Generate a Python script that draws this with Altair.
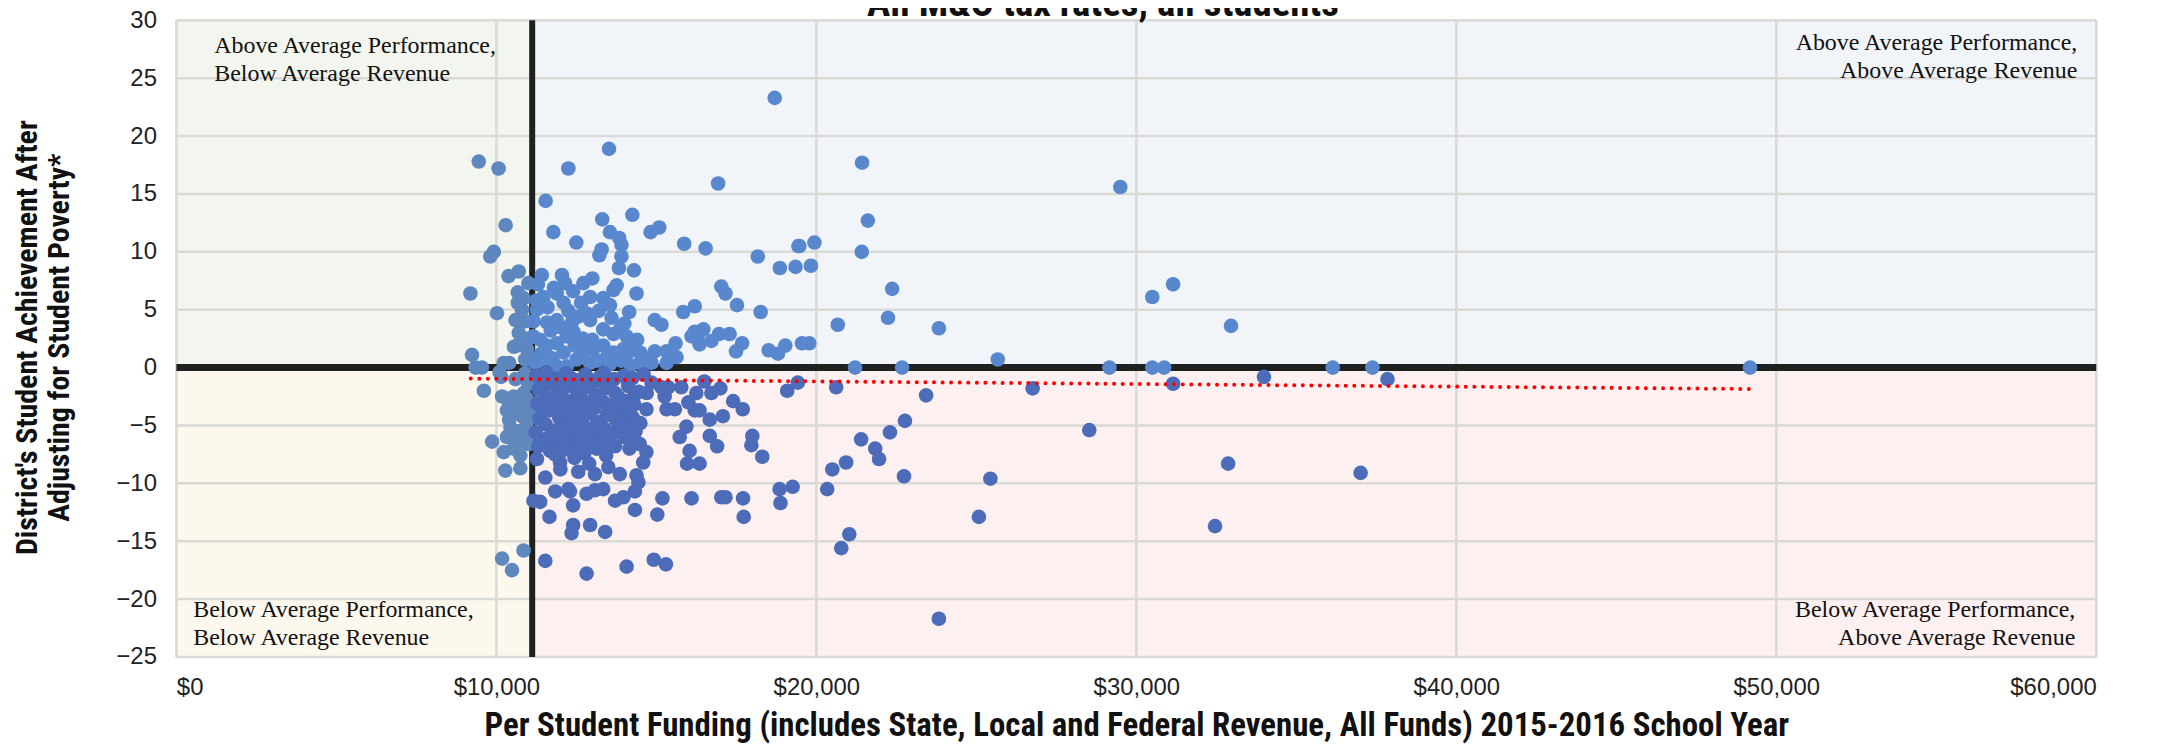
import altair as alt
import pandas as pd

# ---------------- data ----------------
title_text = "All M&O tax rates, all students"
x_title = "Per Student Funding (includes State, Local and Federal Revenue, All Funds) 2015-2016 School Year"
y_title = ["District's Student Achievement After", "Adjusting for Student Poverty*"]

x_ticks = [0, 10000, 20000, 30000, 40000, 50000, 60000]
y_ticks = [-25, -20, -15, -10, -5, 0, 5, 10, 15, 20, 25, 30]

avg_revenue = 11120   # vertical divider ($)
avg_perf = 0          # horizontal divider

trend_x = [9200, 49200]
trend_y = [-0.95, -1.85]

quad_labels = [
    ["Above Average Performance,", "Below Average Revenue"],
    ["Above Average Performance,", "Above Average Revenue"],
    ["Below Average Performance,", "Below Average Revenue"],
    ["Below Average Performance,", "Above Average Revenue"],
]

# districts: (per-student funding $, adjusted achievement)
districts_low_rev_above = [
    (9450, 17.8), (10070, 17.2), (10290, 12.3), (9810, 9.6), (9920, 10.0), (9190, 6.4),
    (10380, 7.9), (10700, 8.3), (10670, 6.5), (10670, 5.6), (10020, 4.7), (9240, 1.1),
    (9550, 0.0), (9350, 0.0), (10230, 0.4), (10640, 1.9), (10960, 1.6), (10900, 0.7),
    (10850, 6.0), (10900, 4.0), (11000, 2.5), (10700, 3.0), (10800, 5.0), (11000, 7.3),
    (10600, 4.1), (10400, 0.4), (11050, 0.8), (10550, 1.8),
]

districts_low_rev_below = [
    (9610, -2.0), (10180, -2.5), (10380, -2.9), (10540, -2.5), (10850, -2.2), (10960, -2.7),
    (10700, -3.2), (10330, -3.7), (10640, -3.7), (10900, -3.5), (10800, -4.2), (10440, -5.2),
    (10700, -5.5), (10330, -6.0), (10640, -6.6), (10900, -6.2), (10540, -7.0), (10230, -7.3),
    (9870, -6.4), (10280, -8.9), (10750, -8.7), (10180, -16.5), (10850, -15.8), (10490, -17.5),
    (10100, -0.4), (10600, -1.0), (10900, -0.5), (10950, -4.8), (11000, -6.6), (10750, -7.6),
    (10400, -4.5), (10150, -0.8), (11000, -1.4), (11050, -3.9), (11050, -5.6),
]

districts_high_rev_above = [
    (18700, 23.3), (13520, 18.9), (12250, 17.2), (21430, 17.7), (11540, 14.4), (11780, 11.7),
    (16930, 15.9), (21610, 12.7), (13310, 12.8), (14250, 13.2), (12500, 10.8), (13550, 11.7),
    (13840, 11.2), (13910, 10.6), (14820, 11.7), (15090, 12.1), (15870, 10.7), (16540, 10.3),
    (18170, 9.6), (19440, 10.5), (19940, 10.8), (18860, 8.6), (19350, 8.7), (19830, 8.8),
    (19470, 10.5), (21420, 10.0), (17030, 7.0), (17160, 6.4), (17520, 5.4), (18260, 4.8),
    (20670, 3.7), (22370, 6.8), (22240, 4.3), (23830, 3.4), (15840, 4.8), (16200, 5.3),
    (16200, 3.1), (16100, 2.7), (16350, 2.0), (16720, 2.3), (16960, 2.9), (17290, 2.9),
    (17680, 2.1), (17490, 1.4), (18510, 1.5), (18800, 1.2), (19030, 1.9), (19550, 2.1),
    (19780, 2.1), (21210, 0.0), (22680, 0.0), (25670, 0.7), (29160, 0.0), (30500, 0.0),
    (30870, 0.0), (32960, 3.6), (30500, 6.1), (31150, 7.2), (29500, 15.6), (36140, 0.0),
    (37380, 0.0), (49180, 0.0),
    (13220, 9.7), (13290, 10.2), (13910, 9.6), (13830, 8.6), (14300, 8.4), (14950, 4.1),
    (15160, 3.7), (14150, 4.8), (14380, 6.4), (13000, 7.7), (12720, 7.3), (12930, 6.1),
    (13340, 6.0), (13660, 6.7), (13760, 7.1), (13550, 5.4), (11420, 8.0), (12050, 8.0),
    (12150, 7.3), (11890, 6.4), (12100, 5.6), (11470, 6.1), (11270, 5.0), (11160, 4.0),
    (11580, 3.9), (11890, 4.1), (12360, 3.9), (12560, 4.4), (12820, 4.7), (12930, 4.1),
    (12410, 3.1), (12200, 2.7), (11890, 2.1), (11580, 1.9), (11370, 2.4), (11150, 2.7),
    (13340, 3.3), (13660, 2.9), (13860, 3.3), (14070, 2.7), (14230, 2.1), (13970, 1.6),
    (13660, 1.3), (13340, 1.9), (13030, 1.6), (12720, 1.3), (12510, 0.7), (12930, 0.4),
    (13450, 0.9), (13860, 0.9), (14120, 1.3), (14490, 1.3), (14590, 0.9), (14950, 1.4),
    (15320, 1.4), (15630, 0.9), (15320, 0.4), (14850, 0.4), (14490, 0.4), (11210, 0.4),
    (11580, 0.1), (11890, 0.1), (12200, 0.1), (11300, 7.2), (11250, 5.8), (11600, 5.2),
    (11800, 6.9), (12400, 6.6), (12650, 5.6), (12250, 4.9), (11700, 3.2), (12000, 3.5),
    (12700, 2.5), (13000, 2.4), (13200, 4.9), (13600, 4.3), (14000, 3.8), (14400, 2.4),
    (11400, 1.2), (11750, 0.8), (12100, 1.3), (12450, 1.9), (12800, 2.0), (13150, 0.6),
    (13550, 0.3), (13900, 0.6), (14200, 0.2), (15600, 2.1), (16290, 2.7), (16470, 3.3),
]

districts_high_rev_below = [
    (20620, -1.7), (23430, -2.4), (22770, -4.6), (22300, -5.6), (21400, -6.2), (21840, -7.0),
    (21960, -7.9), (20930, -8.2), (20500, -8.8), (22740, -9.4), (20340, -10.5), (21030, -14.4),
    (20780, -15.6), (25440, -9.6), (25080, -12.9), (23830, -21.7), (28530, -5.4), (26760, -1.8),
    (31150, -1.4), (33990, -0.8), (37850, -1.0), (37010, -9.1), (32870, -8.3), (32460, -13.7),
    (19090, -2.0), (19420, -1.3), (18850, -10.5), (19260, -10.3), (18880, -11.7), (18000, -5.9),
    (17970, -6.7), (18310, -7.7), (17710, -11.3), (17730, -12.9), (17030, -11.2), (17160, -11.2),
    (16100, -11.3), (15190, -11.3), (15030, -12.7), (14920, -16.6), (15300, -17.0), (14070, -17.2),
    (12820, -17.8), (11530, -16.7), (11160, -11.5), (11370, -11.6),
    (14120, -1.6), (14280, -2.6), (14690, -3.6), (14070, -5.0), (14330, -6.3), (14690, -7.3),
    (14590, -8.2), (14380, -9.3), (14440, -9.9), (13860, -9.2), (14330, -10.7), (13710, -11.5),
    (13970, -11.2), (14330, -12.3), (13080, -9.2), (12560, -9.0), (11990, -8.2), (11530, -9.5),
    (11840, -10.7), (12250, -10.5), (12300, -10.7), (12820, -10.9), (13080, -10.6), (13340, -10.5),
    (12400, -11.9), (11660, -12.9), (12400, -13.6), (12350, -14.3), (12930, -13.6), (13400, -14.2),
    (15730, -6.0), (15940, -5.1), (16040, -7.2), (15960, -8.3), (16350, -8.3), (16670, -5.9),
    (17080, -4.2), (16670, -4.5), (16200, -3.7), (16350, -3.7), (16720, -2.2), (16250, -2.2),
    (15780, -1.7), (15370, -1.7), (15320, -3.6), (15580, -3.6), (15260, -2.5), (15160, -1.7),
    (14850, -1.3), (14120, -1.3),
    (11250, -0.7), (11320, -1.9), (11280, -3.1), (11350, -4.4), (11230, -5.6), (11310, -6.8),
    (11270, -7.9), (11550, -0.4), (11620, -1.4), (11580, -2.6), (11660, -3.7), (11540, -4.9),
    (11600, -6.1), (11680, -7.2), (11870, -1.0), (11920, -2.1), (11850, -3.3), (11960, -4.3),
    (11880, -5.4), (11940, -6.6), (11830, -7.5), (12180, -0.5), (12230, -1.6), (12150, -2.8),
    (12260, -3.9), (12190, -5.0), (12240, -6.2), (12120, -7.1), (12470, -1.1), (12530, -2.3),
    (12460, -3.4), (12550, -4.6), (12480, -5.7), (12520, -6.9), (12440, -7.8), (12780, -0.6),
    (12830, -1.7), (12760, -2.9), (12850, -4.0), (12790, -5.2), (12820, -6.4), (12750, -7.4),
    (13080, -1.2), (13120, -2.4), (13060, -3.5), (13150, -4.7), (13090, -5.8), (13130, -7.0),
    (13370, -0.5), (13420, -1.8), (13360, -3.0), (13440, -4.1), (13390, -5.3), (13350, -6.5),
    (13430, -7.6), (13680, -1.0), (13720, -2.2), (13650, -3.3), (13740, -4.5), (13690, -5.6),
    (13710, -6.8), (13980, -0.7), (14020, -2.9), (13960, -4.0), (14010, -6.0), (14250, -0.9),
    (14310, -3.2), (14260, -4.3), (14350, -5.5), (14600, -0.6), (14700, -2.2), (14500, -4.8),
    (16000, -3.0), (16500, -1.2), (17000, -1.8), (17400, -2.9), (17700, -3.6), (16900, -6.8),
    (11420, -1.2), (11440, -3.6), (11420, -6.3), (11730, -0.9), (11760, -2.9), (11760, -5.7),
    (12030, -1.4), (12050, -3.6), (12020, -6.0), (12330, -0.9), (12340, -3.1), (12360, -5.4),
    (12620, -1.6), (12640, -4.0), (12650, -6.2), (12930, -1.1), (12940, -3.4), (12960, -5.9),
    (13230, -0.8), (13250, -2.9), (13260, -5.1), (13540, -1.4), (13550, -3.8), (13560, -6.0),
    (13830, -2.6), (13850, -5.0), (14140, -3.5), (14160, -7.0), (14450, -2.1), (14480, -6.6),
    (12000, -8.8), (12900, -8.3), (13500, -8.6),
]

# ---------------- styling ----------------
quad_fill = {"LT": "#f2f6ef", "RT": "#f1f5fa", "LB": "#fdf8ee", "RB": "#fdf0f0"}
point_color = {"LT": "#5e87c0", "RT": "#5887cd", "LB": "#6088bd", "RB": "#4c6bb8"}
SANS = "Liberation Sans"
TITLE_FONT = "Liberation Sans Narrow, Roboto Condensed, Roboto, Liberation Sans"
SERIF = "Liberation Serif"

W, H = 1927, 639
X_MIN, X_MAX, Y_MIN, Y_MAX = 0, 60000, -25, 30

# ---------------- tables ----------------
all_pts = (districts_low_rev_above + districts_low_rev_below
           + districts_high_rev_above + districts_high_rev_below)
df = pd.DataFrame(all_pts, columns=["funding", "achievement"])

quads = pd.DataFrame({
    "q": ["LT", "RT", "LB", "RB"],
    "x0": [X_MIN, avg_revenue, X_MIN, avg_revenue],
    "x1": [avg_revenue, X_MAX, avg_revenue, X_MAX],
    "y0": [avg_perf, avg_perf, Y_MIN, Y_MIN],
    "y1": [Y_MAX, Y_MAX, avg_perf, avg_perf],
})
quads["fill"] = quads["q"].map(quad_fill)

gx = pd.DataFrame({"v": x_ticks})
gy = pd.DataFrame({"v": y_ticks})
trend = pd.DataFrame({"funding": trend_x, "achievement": trend_y})

xs = alt.Scale(domain=[X_MIN, X_MAX], nice=False, zero=False)
ys = alt.Scale(domain=[Y_MIN, Y_MAX], nice=False, zero=False)

x_axis = alt.Axis(
    title=x_title, values=x_ticks, format="$,.0f", grid=False, domain=False, ticks=False,
    tickSize=0, labelFont=SANS, labelFontSize=24, labelColor="#222222", labelPadding=19,
    titleFont=TITLE_FONT, titleFontSize=33, titleFontWeight="bold", titleColor="#111111",
    titleY=69, titleBaseline="middle",
)
y_axis = alt.Axis(
    title=y_title, values=y_ticks, grid=False, domain=False, ticks=False, tickSize=0,
    labelFont=SANS, labelFontSize=24, labelColor="#222222", labelPadding=20,
    titleFont=TITLE_FONT, titleFontSize=30, titleFontWeight="bold", titleColor="#111111",
    titleLineHeight=32, titleX=-149, titleY=318, titleBaseline="middle", titleAngle=270,
)

bg = alt.Chart(quads).mark_rect().encode(
    x=alt.X("x0:Q", scale=xs, axis=x_axis),
    x2="x1",
    y=alt.Y("y0:Q", scale=ys, axis=y_axis),
    y2="y1",
    color=alt.Color("fill:N", scale=None),
)

grid_v = alt.Chart(gx).mark_rule(color="#d9d9d6", strokeWidth=2.5).encode(
    x=alt.X("v:Q", scale=xs, axis=x_axis)
)
grid_h = alt.Chart(gy).mark_rule(color="#d9d9d6", strokeWidth=2.5).encode(
    y=alt.Y("v:Q", scale=ys, axis=y_axis)
)

div_v = alt.Chart(pd.DataFrame({"v": [avg_revenue]})).mark_rule(
    color="#1e211f", strokeWidth=6).encode(x=alt.X("v:Q", scale=xs, axis=x_axis))
div_h = alt.Chart(pd.DataFrame({"v": [avg_perf]})).mark_rule(
    color="#1e211f", strokeWidth=7).encode(y=alt.Y("v:Q", scale=ys, axis=y_axis))

points = alt.Chart(df).transform_calculate(
    quad=f"(datum.funding < {avg_revenue} ? 'L' : 'R') + (datum.achievement >= {avg_perf} ? 'T' : 'B')"
).mark_circle(size=215, opacity=1).encode(
    x=alt.X("funding:Q", scale=xs, axis=x_axis),
    y=alt.Y("achievement:Q", scale=ys, axis=y_axis),
    color=alt.Color("quad:N", scale=alt.Scale(domain=list(point_color.keys()),
                                              range=list(point_color.values())), legend=None),
)

trend_line = alt.Chart(trend).mark_line(
    color="#ff0000", strokeWidth=4, strokeDash=[0.01, 8.6], strokeCap="round"
).encode(
    x=alt.X("funding:Q", scale=xs, axis=x_axis),
    y=alt.Y("achievement:Q", scale=ys, axis=y_axis),
)

one = pd.DataFrame({"a": [0]})


def label(lines, px, py, align):
    return alt.Chart(one).mark_text(
        text=lines, font=SERIF, fontSize=24, lineHeight=28, color="#111111",
        align=align, baseline="top",
    ).encode(x=alt.value(px), y=alt.value(py))


labels = [
    label(quad_labels[0], 38, 14, "left"),
    label(quad_labels[1], 1908, 11, "right"),
    label(quad_labels[2], 17, 580, "left"),
    label(quad_labels[3], 1906, 580, "right"),
]

title_mark = alt.Chart(one).mark_text(
    text=title_text, font=TITLE_FONT, fontSize=39, fontWeight="bold", color="#111111",
    align="center", baseline="alphabetic",
).encode(x=alt.value(930), y=alt.value(-4))

chart = alt.layer(
    bg, grid_v, grid_h, div_v, div_h, points, trend_line, *labels, title_mark
).properties(
    width=W, height=H,
    autosize=alt.AutoSizeParams(type="none"),
    padding={"left": 169, "top": 11, "right": 65, "bottom": 89},
).configure_view(stroke=None).configure(background="white")

chart.save("out.html", embed_options={"renderer": "svg", "actions": False})
